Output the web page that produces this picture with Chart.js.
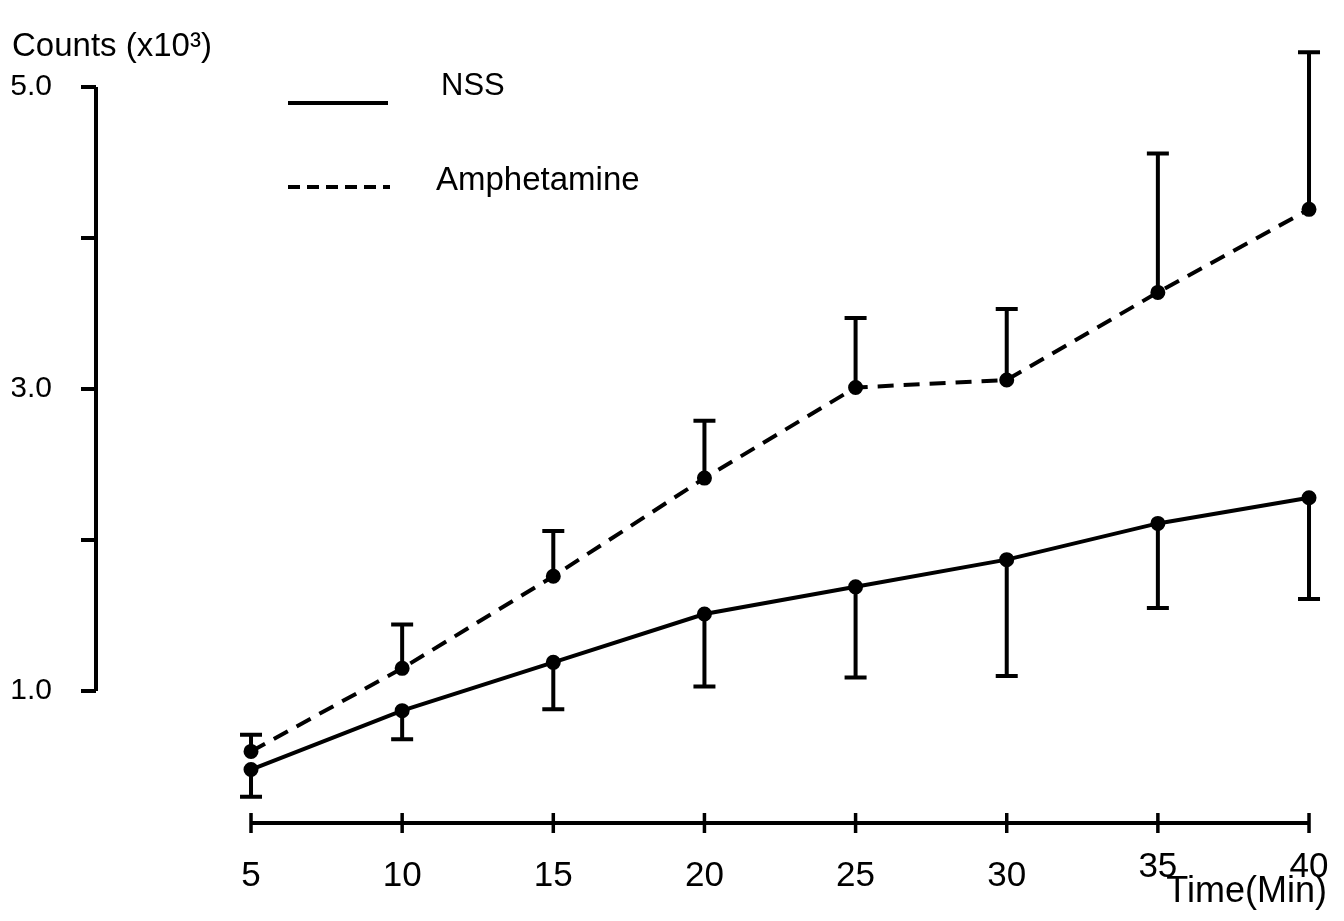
<!DOCTYPE html>
<html>
<head>
<meta charset="utf-8">
<script src="https://cdn.jsdelivr.net/npm/chart.js@4.4.1/dist/chart.umd.min.js"></script>
<style>
  html, body { margin: 0; padding: 0; background: #fff; }
  #wrap { width: 1344px; height: 921px; }
</style>
</head>
<body>
<div id="wrap"><canvas id="countsChart"></canvas></div>
<script>
// Time points (min)
const times = [5, 10, 15, 20, 25, 30, 35, 40];
// Counts (x10^3)
const nssMean = [0.48, 0.87, 1.19, 1.51, 1.69, 1.87, 2.11, 2.28];
const nssErr = [0.18, 0.19, 0.31, 0.48, 0.60, 0.77, 0.56, 0.67]; // bars drawn downward
const ampMean = [0.60, 1.15, 1.76, 2.41, 3.01, 3.06, 3.64, 4.19];
const ampErr = [0.11, 0.29, 0.30, 0.38, 0.46, 0.47, 0.92, 1.04]; // bars drawn upward
// Y axis ticks and the ones that get a label
const yTicks = [1, 2, 3, 4, 5];
const yTickLabels = { 1: "1.0", 3: "3.0", 5: "5.0" };

const FONT = "'Liberation Sans', Arial, sans-serif";

// Error bars with caps, drawn through the chart scales
const errorBars = {
  id: "errorBars",
  beforeDatasetsDraw(chart) {
    const { ctx, scales: { x, y } } = chart;
    ctx.save();
    ctx.strokeStyle = "#000";
    ctx.lineWidth = 4;
    chart.data.datasets.forEach((ds) => {
      ds.data.forEach((p, i) => {
        const px = x.getPixelForValue(p.x);
        const py = y.getPixelForValue(p.y);
        const end = y.getPixelForValue(p.y + ds.errDir * ds.errors[i]);
        ctx.beginPath();
        ctx.moveTo(px, py);
        ctx.lineTo(px, end);
        ctx.moveTo(px - 11, end);
        ctx.lineTo(px + 11, end);
        ctx.stroke();
      });
    });
    ctx.restore();
  },
};

// Axis lines that only span part of the plot, like the original
const axisLines = {
  id: "axisLines",
  beforeDatasetsDraw(chart) {
    const { ctx, chartArea, scales: { x, y } } = chart;
    ctx.save();
    ctx.strokeStyle = "#000";
    ctx.lineWidth = 4;
    // y axis from 1.0 to 5.0
    ctx.beginPath();
    ctx.moveTo(chartArea.left, y.getPixelForValue(yTicks[0]));
    ctx.lineTo(chartArea.left, y.getPixelForValue(yTicks[yTicks.length - 1]));
    ctx.stroke();
    // x axis from first to last time, ticks crossing the line
    const base = chartArea.bottom;
    ctx.beginPath();
    ctx.moveTo(x.getPixelForValue(times[0]), base);
    ctx.lineTo(x.getPixelForValue(times[times.length - 1]), base);
    ctx.stroke();
    ctx.lineWidth = 3.5;
    times.forEach((t) => {
      const px = x.getPixelForValue(t);
      ctx.beginPath();
      ctx.moveTo(px, base - 10);
      ctx.lineTo(px, base + 10);
      ctx.stroke();
    });
    ctx.restore();
  },
};

// Legend block in the upper middle
const sideLegend = {
  id: "sideLegend",
  afterDraw(chart) {
    const { ctx } = chart;
    ctx.save();
    ctx.strokeStyle = "#000";
    ctx.fillStyle = "#000";
    ctx.lineWidth = 4;
    ctx.beginPath();
    ctx.moveTo(288, 103);
    ctx.lineTo(388, 103);
    ctx.stroke();
    ctx.setLineDash([12, 7]);
    ctx.beginPath();
    ctx.moveTo(288, 187);
    ctx.lineTo(390, 187);
    ctx.stroke();
    ctx.setLineDash([]);
    ctx.textBaseline = "alphabetic";
    ctx.font = "31px " + FONT;
    ctx.fillText(chart.data.datasets[0].label, 441, 95);
    ctx.font = "33px " + FONT;
    ctx.fillText(chart.data.datasets[1].label, 436, 190);
    ctx.restore();
  },
};

const ctxCounts = document.getElementById("countsChart").getContext("2d");
const countsChart = new Chart(ctxCounts, {
  type: "line",
  data: {
    datasets: [
      {
        label: "NSS",
        data: times.map((t, i) => ({ x: t, y: nssMean[i] })),
        errors: nssErr,
        errDir: -1,
        borderColor: "#000",
        backgroundColor: "#000",
        borderWidth: 4,
        pointRadius: 5.5,
        pointBackgroundColor: "#000",
        tension: 0,
        clip: false,
      },
      {
        label: "Amphetamine",
        data: times.map((t, i) => ({ x: t, y: ampMean[i] })),
        errors: ampErr,
        errDir: 1,
        borderColor: "#000",
        backgroundColor: "#000",
        borderWidth: 4,
        borderDash: [16, 10],
        pointRadius: 5.5,
        pointBackgroundColor: "#000",
        tension: 0,
        clip: false,
      },
    ],
  },
  options: {
    responsive: true,
    maintainAspectRatio: false,
    animation: false,
    devicePixelRatio: 1,
    layout: { padding: { left: 12, right: 17, top: 0, bottom: 0 } },
    plugins: {
      legend: { display: false },
      tooltip: { enabled: false },
      title: {
        display: true,
        text: "Counts (x10³)",
        align: "start",
        color: "#000",
        font: { family: FONT, size: 33, weight: "normal" },
        padding: { top: 27, bottom: -27 },
      },
    },
    scales: {
      x: {
        type: "linear",
        min: -0.128,
        max: 40.595,
        afterBuildTicks: (scale) => {
          scale.ticks = times.map((v) => ({ value: v }));
        },
        afterFit: (scale) => {
          scale.height = 98;
        },
        grid: { display: false, drawTicks: false },
        border: { display: false },
        ticks: {
          color: "#000",
          padding: 0,
          maxRotation: 0,
          autoSkip: false,
          // tall line box pushes the labels down; the last two sit higher
          // above the axis title, as in the original
          font: (c) => ({
            family: FONT,
            size: 35,
            lineHeight: c.index >= times.length - 2 ? "88px" : "106px",
          }),
        },
        title: {
          display: true,
          text: "Time(Min)",
          align: "end",
          color: "#000",
          font: { family: FONT, size: 36 },
          padding: { top: 0, bottom: 7 },
        },
      },
      y: {
        type: "linear",
        min: 0.126,
        max: 5.314,
        afterBuildTicks: (scale) => {
          scale.ticks = yTicks.map((v) => ({ value: v }));
        },
        afterFit: (scale) => {
          scale.width = 84;
        },
        grid: {
          display: true,
          drawOnChartArea: false,
          drawTicks: true,
          tickLength: 15,
          lineWidth: 4,
          color: "#000",
        },
        border: { display: false },
        ticks: {
          color: "#000",
          padding: 29,
          font: { family: FONT, size: 30, lineHeight: 0.5 },
          callback: (value) => yTickLabels[value] || "",
        },
      },
    },
  },
  plugins: [axisLines, errorBars, sideLegend],
});
</script>
</body>
</html>
